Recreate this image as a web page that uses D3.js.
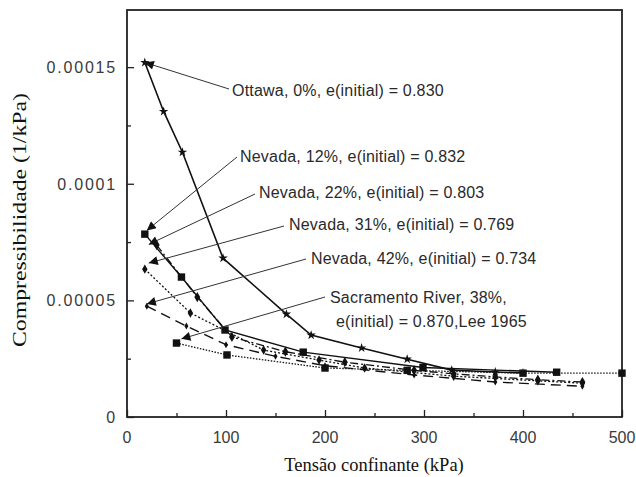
<!DOCTYPE html>
<html>
<head>
<meta charset="utf-8">
<script src="https://cdn.jsdelivr.net/npm/d3@7"></script>
<style>
  body { margin: 0; background: #fff; }
  .tick-label { font-family: "Liberation Sans", Arial, sans-serif; font-size: 16px; fill: #3a3a3a; }
  .axis-title { font-family: "Liberation Serif", "Times New Roman", serif; font-size: 18.5px; fill: #111; }
  .note { font-family: "Liberation Sans", Arial, sans-serif; font-size: 16px; letter-spacing: 0.2px; fill: #2a2a2a; }
</style>
</head>
<body>
<div id="chart"></div>
<script>
// Data (x in kPa, y in 1e-5 1/kPa)
const ottawaX = [18, 37, 56, 97, 161, 186, 237, 283, 328, 372, 400];
const ottawaY = [15.2, 13.1, 11.35, 6.81, 4.41, 3.51, 2.96, 2.48, 2.01, 1.93, 1.89];

const nev12X = [18, 55, 99, 178, 299, 434];
const nev12Y = [7.84, 6.0, 3.73, 2.78, 2.12, 1.92];

const nev22X = [30, 71, 106, 160, 220, 290, 330, 372, 415, 460];
const nev22Y = [7.37, 5.14, 3.43, 2.8, 2.35, 2.0, 1.85, 1.72, 1.6, 1.5];

const nev31X = [18, 64, 138, 194, 240, 330, 415, 460];
const nev31Y = [6.34, 4.46, 2.87, 2.44, 2.1, 1.75, 1.55, 1.45];

const nev42X = [20, 60, 100, 150, 200, 290, 372, 460];
const nev42Y = [4.75, 3.9, 3.1, 2.6, 2.2, 1.8, 1.5, 1.32];

const sacX = [50, 101, 200, 283, 400, 500];
const sacY = [3.17, 2.66, 2.1, 2.0, 1.88, 1.88];

const xTicks = [0, 100, 200, 300, 400, 500];
const yTicks = [0, 0.00005, 0.0001, 0.00015];
const yTickLabels = ["0", "0.00005", "0.0001", "0.00015"];

const notes = [
    {lines: ["Ottawa, 0%, e(initial) = 0.830"], tx: 232, ty: 91, from: [229, 89], to: [18, 15.2]},
    {lines: ["Nevada, 12%, e(initial) = 0.832"], tx: 240, ty: 157, from: [237, 157], to: [20, 8.0]},
    {lines: ["Nevada, 22%, e(initial) = 0.803"], tx: 259, ty: 193, from: [255, 194], to: [22, 7.4]},
    {lines: ["Nevada, 31%, e(initial) = 0.769"], tx: 289, ty: 225, from: [284, 226], to: [22, 6.6]},
    {lines: ["Nevada, 42%, e(initial) = 0.734"], tx: 311, ty: 259, from: [306, 259], to: [20, 4.85]},
    {lines: ["Sacramento River, 38%,", "e(initial) = 0.870,Lee  1965"], tx: 330, ty: 298, from: [325, 297], to: [55, 3.35]}
];

const series = [
    {x: ottawaX, y: ottawaY, dash: null, width: 1.6, symbol: d3.symbolStar, size: 28},
    {x: nev12X, y: nev12Y, dash: null, width: 1.4, symbol: d3.symbolSquare, size: 55},
    {x: nev22X, y: nev22Y, dash: "8,3,2,3", width: 1.3, symbol: d3.symbolDiamond, size: 30},
    {x: nev31X, y: nev31Y, dash: "2,2", width: 1.3, symbol: d3.symbolDiamond, size: 26},
    {x: nev42X, y: nev42Y, dash: "10,6", width: 1.4, symbol: d3.symbolDiamond, size: 14},
    {x: sacX, y: sacY, dash: "1.5,1.5", width: 1.3, symbol: d3.symbolSquare, size: 55}
];

const margin = {top: 10, right: 14, bottom: 60, left: 127};
const W = 636, H = 477;
const width = W - margin.left - margin.right;
const height = H - margin.top - margin.bottom;

const svg = d3.select("#chart").append("svg")
    .attr("width", W)
    .attr("height", H);

const defs = svg.append("defs");
defs.append("marker")
    .attr("id", "arrow")
    .attr("viewBox", "0 0 10 10")
    .attr("refX", 10).attr("refY", 5)
    .attr("markerWidth", 13).attr("markerHeight", 9)
    .attr("markerUnits", "userSpaceOnUse")
    .attr("orient", "auto")
    .append("path")
    .attr("d", "M0,0 L10,5 L0,10 Z")
    .attr("fill", "#111");

const g = svg.append("g")
    .attr("transform", `translate(${margin.left},${margin.top})`);

const x = d3.scaleLinear().domain([0, 500]).range([0, width]);
const y = d3.scaleLinear().domain([0, 0.0001745]).range([height, 0]);

// Ticks pointing inward
const xAxis = d3.axisBottom(x).tickValues(d3.range(0, 501, 50))
    .tickSize(-6).tickFormat("");
g.append("g").attr("transform", `translate(0,${height})`).call(xAxis)
    .call(a => a.select(".domain").remove())
    .call(a => a.selectAll("line").attr("stroke", "#222").attr("stroke-width", 1.3)
        .attr("y2", d => d % 100 === 0 ? -7 : -4));

const yAxis = d3.axisLeft(y).tickValues(d3.range(0, 0.00016, 0.000025))
    .tickSize(-6).tickFormat("");
g.append("g").call(yAxis)
    .call(a => a.select(".domain").remove())
    .call(a => a.selectAll("line").attr("stroke", "#222").attr("stroke-width", 1.3)
        .attr("x2", d => Math.round(d / 0.000025) % 2 === 0 ? 7 : 4));

// Tick labels
g.selectAll(".xl").data(xTicks).enter().append("text")
    .attr("class", "tick-label")
    .attr("x", d => x(d)).attr("y", height + 26)
    .attr("text-anchor", "middle")
    .text(d => d);

g.selectAll(".yl").data(yTicks).enter().append("text")
    .attr("class", "tick-label")
    .attr("x", -10).attr("y", d => y(d) + 6)
    .attr("text-anchor", "end")
    .style("letter-spacing", "1.8px")
    .text((d, i) => yTickLabels[i]);

// Frame
g.append("rect")
    .attr("width", width).attr("height", height)
    .attr("fill", "none").attr("stroke", "#222").attr("stroke-width", 1.8);

// Series
const line = d3.line().x(d => x(d[0])).y(d => y(d[1] * 1e-5));
series.forEach(s => {
    const pts = s.x.map((v, i) => [v, s.y[i]]);
    g.append("path")
        .datum(pts)
        .attr("d", line)
        .attr("fill", "none")
        .attr("stroke", "#111")
        .attr("stroke-width", s.width)
        .attr("stroke-dasharray", s.dash);
    g.selectAll(null).data(pts).enter().append("path")
        .attr("d", d3.symbol().type(s.symbol).size(s.size))
        .attr("transform", d => `translate(${x(d[0])},${y(d[1] * 1e-5)})`)
        .attr("fill", "#111");
});

// Annotations with leader arrows
notes.forEach(n => {
    svg.append("line")
        .attr("x1", n.from[0]).attr("y1", n.from[1])
        .attr("x2", margin.left + x(n.to[0])).attr("y2", margin.top + y(n.to[1] * 1e-5))
        .attr("stroke", "#333").attr("stroke-width", 1)
        .attr("marker-end", "url(#arrow)");
    n.lines.forEach((t, i) => {
        svg.append("text")
            .attr("class", "note")
            .attr("x", n.tx + (i > 0 ? 6 : 0))
            .attr("y", n.ty + 5 + i * 24)
            .text(t);
    });
});

// Axis titles
svg.append("text")
    .attr("class", "axis-title")
    .attr("transform", `translate(26,220) rotate(-90)`)
    .attr("text-anchor", "middle")
    .attr("textLength", 254)
    .attr("lengthAdjust", "spacingAndGlyphs")
    .text("Compressibilidade (1/kPa)");

svg.append("text")
    .attr("class", "axis-title")
    .attr("x", 374).attr("y", 471)
    .attr("text-anchor", "middle")
    .text("Tensão confinante (kPa)");
</script>
</body>
</html>
